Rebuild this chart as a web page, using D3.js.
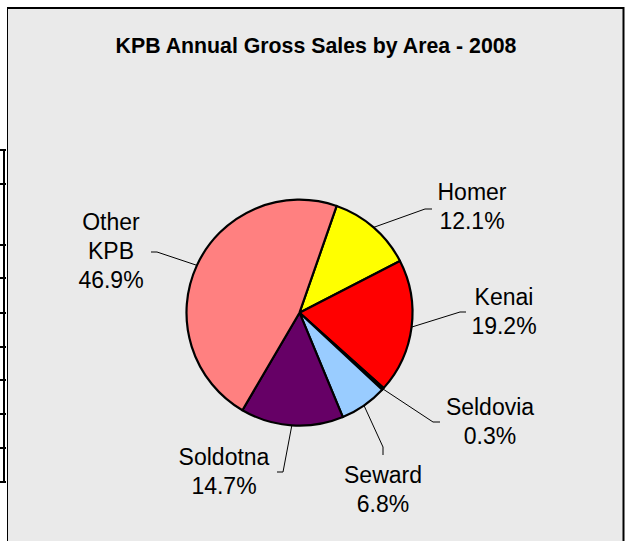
<!DOCTYPE html>
<html>
<head>
<meta charset="utf-8">
<script src="https://d3js.org/d3.v7.min.js"></script>
<style>
  body { margin: 0; background: #fff; }
  svg { display: block; font-family: "Liberation Sans", Arial, sans-serif; }
</style>
</head>
<body>
<svg width="629" height="541"></svg>
<script>
// data
var areas  = ["Homer", "Kenai", "Seldovia", "Seward", "Soldotna", "Other KPB"];
var shares = [12.1, 19.2, 0.3, 6.8, 14.7, 46.9];
var colors = ["#FFFF00", "#FF0000", "#000080", "#99CCFF", "#660066", "#FF8080"];
var title  = "KPB Annual Gross Sales by Area - 2008";

// where each label sits: leader elbow and first baseline (layout, not data)
var labelLayout = {
  "Homer":     { elbow: [425, 209], end: [432, 209], tx: 472, ty: 200, lines: ["Homer"] },
  "Kenai":     { elbow: [460, 312], end: [466, 312], tx: 504, ty: 305, lines: ["Kenai"] },
  "Seldovia":  { elbow: [433, 422], end: [440, 422], tx: 490, ty: 415, lines: ["Seldovia"] },
  "Seward":    { elbow: [383, 447], end: [383, 455], tx: 383, ty: 483, lines: ["Seward"] },
  "Soldotna":  { elbow: [283, 472], end: [277, 472], tx: 224, ty: 465, lines: ["Soldotna"] },
  "Other KPB": { elbow: [157, 252], end: [151, 252], tx: 111, ty: 230, lines: ["Other", "KPB"] }
};

var svg = d3.select("svg");

// page bits to the left of the chart (table edge)
var tableRows = [150, 184, 245, 278, 313, 347, 380, 414, 448, 482];
svg.append("line")
  .attr("x1", 4).attr("x2", 4).attr("y1", 150).attr("y2", 483)
  .attr("stroke", "#000").attr("stroke-width", 2);
svg.selectAll(".row").data(tableRows)
  .enter().append("line")
  .attr("x1", 0).attr("x2", 6)
  .attr("y1", function(d){ return d; }).attr("y2", function(d){ return d; })
  .attr("stroke", "#000").attr("stroke-width", 2);

// chart area
svg.append("rect")
  .attr("x", 7).attr("y", 8).attr("width", 616).attr("height", 540)
  .attr("fill", "#EAEAEA");
svg.append("line").attr("x1", 7.5).attr("x2", 7.5).attr("y1", 7).attr("y2", 541)
  .attr("stroke", "#000").attr("stroke-width", 1);
svg.append("line").attr("x1", 7).attr("x2", 624).attr("y1", 8).attr("y2", 8)
  .attr("stroke", "#000").attr("stroke-width", 2);
svg.append("line").attr("x1", 623.5).attr("x2", 623.5).attr("y1", 7).attr("y2", 541)
  .attr("stroke", "#000").attr("stroke-width", 2);

svg.append("text")
  .attr("x", 316).attr("y", 53)
  .attr("text-anchor", "middle")
  .attr("font-size", 21.3).attr("font-weight", "bold")
  .text(title);

var cx = 299.5, cy = 312.7, r = 113;
var start = 19.2 * Math.PI / 180;

var pie = d3.pie()
  .sort(null)
  .value(function(d){ return d.v; })
  .startAngle(start)
  .endAngle(start + 2 * Math.PI);

var arc = d3.arc().innerRadius(0).outerRadius(r);

var slices = pie(areas.map(function(a, i){ return { name: a, v: shares[i], c: colors[i] }; }));

var g = svg.append("g").attr("transform", "translate(" + cx + "," + cy + ")");

g.selectAll("path").data(slices)
  .enter().append("path")
  .attr("d", arc)
  .attr("fill", function(d){ return d.data.c; })
  .attr("stroke", "#000")
  .attr("stroke-width", 2.2)
  .attr("stroke-linejoin", "round");

// leader lines
svg.selectAll(".leader").data(slices)
  .enter().append("polyline")
  .attr("fill", "none")
  .attr("stroke", "#000")
  .attr("stroke-width", 1)
  .attr("points", function(d){
    var a = (d.startAngle + d.endAngle) / 2;
    var x0 = cx + r * Math.sin(a), y0 = cy - r * Math.cos(a);
    var L = labelLayout[d.data.name];
    return [[x0, y0], L.elbow, L.end].map(function(p){ return p.join(","); }).join(" ");
  });

// labels
var lab = svg.selectAll(".lab").data(slices)
  .enter().append("text")
  .attr("text-anchor", "middle")
  .attr("font-size", 23)
  .attr("fill", "#000");

lab.each(function(d){
  var L = labelLayout[d.data.name];
  var t = d3.select(this);
  var lines = L.lines.concat([d.data.v.toFixed(1) + "%"]);
  lines.forEach(function(s, i){
    t.append("tspan").attr("x", L.tx).attr("y", L.ty + i * 29).text(s);
  });
});
</script>
</body>
</html>
